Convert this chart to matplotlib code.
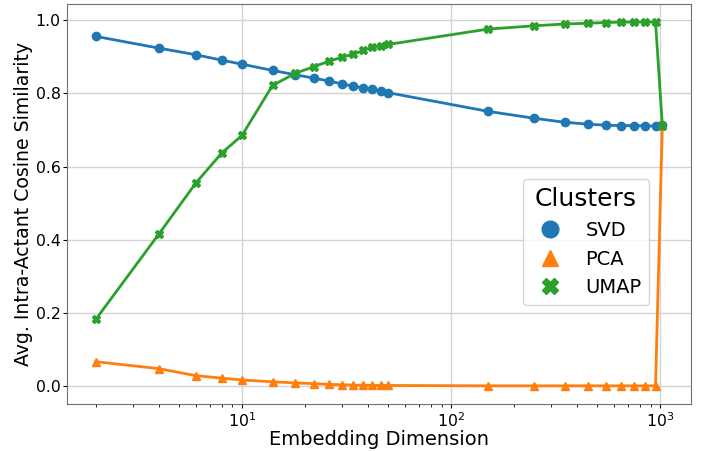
import matplotlib
matplotlib.use("Agg")
import matplotlib.pyplot as plt
from matplotlib.lines import Line2D

dims = [2, 4, 6, 8, 10, 14, 18, 22, 26, 30, 34, 38, 42, 46, 50,
        150, 250, 350, 450, 550, 650, 750, 850, 950, 1024]

svd = [0.956, 0.924, 0.906, 0.891, 0.880, 0.863, 0.851, 0.842, 0.834, 0.826,
       0.820, 0.815, 0.811, 0.806, 0.802,
       0.751, 0.732, 0.721, 0.716, 0.713, 0.712, 0.712, 0.711, 0.711, 0.713]

pca = [0.066, 0.047, 0.028, 0.021, 0.016, 0.011, 0.008, 0.006, 0.004, 0.003,
       0.002, 0.002, 0.001, 0.001, 0.001,
       0.0, 0.0, 0.0, 0.0, 0.0, 0.0, 0.0, 0.0, 0.0, 0.713]

umap = [0.182, 0.415, 0.554, 0.637, 0.685, 0.822, 0.855, 0.873, 0.888, 0.899,
        0.907, 0.918, 0.927, 0.930, 0.934,
        0.976, 0.985, 0.990, 0.992, 0.994, 0.995, 0.995, 0.995, 0.995, 0.712]

methods = ["SVD", "PCA", "UMAP"]
colors = ["#1f77b4", "#ff7f0e", "#2ca02c"]
markers = ["o", "^", "X"]

fig = plt.figure(figsize=(7.06, 4.51), dpi=100)
ax = fig.add_axes([0.0956, 0.1042, 0.8827, 0.887])

for vals, c, m in zip([svd, pca, umap], colors, markers):
    ax.plot(dims, vals, color=c, marker=m, linewidth=2, markersize=6)

ax.set_xscale("log")
ax.grid(True, color="#d3d3d3", linewidth=1)
ax.set_axisbelow(True)
for s in ax.spines.values():
    s.set_color("#707070")

ax.tick_params(labelsize=11.3, pad=2, length=3)
ax.tick_params(which="minor", length=2)
ax.set_xlabel("Embedding Dimension", fontsize=14, labelpad=0)
ax.set_ylabel("Avg. Intra-Actant Cosine Similarity", fontsize=13.6, labelpad=2)

handles = [Line2D([], [], color=c, marker=m, linestyle="none", markersize=12)
           for c, m in zip(colors, markers)]
leg = ax.legend(handles, methods, title="Clusters", fontsize=14, title_fontsize=18,
                loc="lower right", bbox_to_anchor=(0.949, 0.223))

fig.savefig("out.png", dpi=100)
